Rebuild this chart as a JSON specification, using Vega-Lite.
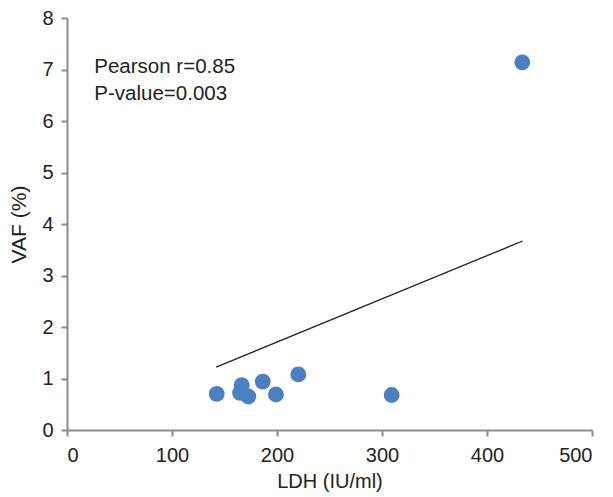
{
  "$schema": "https://vega.github.io/schema/vega-lite/v6.json",
  "width": 525,
  "height": 412,
  "autosize": "none",
  "padding": {"left": 67, "top": 18, "right": 21, "bottom": 67},
  "background": "white",
  "config": {
    "view": {"stroke": null},
    "font": "Liberation Sans",
    "axis": {
      "grid": false,
      "domainColor": "#8c8c8c",
      "domainWidth": 2,
      "tickColor": "#8c8c8c",
      "tickWidth": 2,
      "tickSize": 6,
      "labelFont": "Liberation Sans",
      "labelFontSize": 20,
      "labelColor": "#222",
      "titleFont": "Liberation Sans",
      "titleFontSize": 20,
      "titleFontWeight": "normal",
      "titleColor": "#222"
    }
  },
  "datasets": {
    "pts": [
      {"LDH": 142.6, "VAF": 0.70},
      {"LDH": 166.4, "VAF": 0.87},
      {"LDH": 164.8, "VAF": 0.72},
      {"LDH": 172.7, "VAF": 0.65},
      {"LDH": 186.4, "VAF": 0.94},
      {"LDH": 199, "VAF": 0.69},
      {"LDH": 220.3, "VAF": 1.08},
      {"LDH": 309.2, "VAF": 0.68},
      {"LDH": 433.6, "VAF": 7.14}
    ],
    "trend": [
      {"LDH": 142, "VAF": 1.22},
      {"LDH": 434, "VAF": 3.67}
    ],
    "notes": [
      {"LDH": 26, "VAF": 7.05, "label": "Pearson r=0.85"},
      {"LDH": 26, "VAF": 6.53, "label": "P-value=0.003"}
    ]
  },
  "layer": [
    {
      "data": {"name": "trend"},
      "mark": {"type": "line", "color": "#222", "strokeWidth": 1.3},
      "encoding": {
        "x": {"field": "LDH", "type": "quantitative", "scale": {"domain": [0, 500]}, "axis": {"values": [0,100,200,300,400,500], "title": "LDH (IU/ml)", "labelPadding": 9, "titlePadding": 6}},
        "y": {"field": "VAF", "type": "quantitative", "scale": {"domain": [0, 8]}, "axis": {"values": [0,1,2,3,4,5,6,7,8], "title": "VAF (%)", "titleFontSize": 21, "labelPadding": 8, "titlePadding": 12}}
      }
    },
    {
      "data": {"name": "pts"},
      "mark": {"type": "circle", "size": 250, "color": "#4a7fc1", "opacity": 1},
      "encoding": {
        "x": {"field": "LDH", "type": "quantitative"},
        "y": {"field": "VAF", "type": "quantitative"}
      }
    },
    {
      "data": {"name": "notes"},
      "mark": {"type": "text", "align": "left", "baseline": "middle", "fontSize": 20.5, "color": "#222", "font": "Liberation Sans"},
      "encoding": {
        "x": {"field": "LDH", "type": "quantitative"},
        "y": {"field": "VAF", "type": "quantitative"},
        "text": {"field": "label"}
      }
    }
  ]
}
